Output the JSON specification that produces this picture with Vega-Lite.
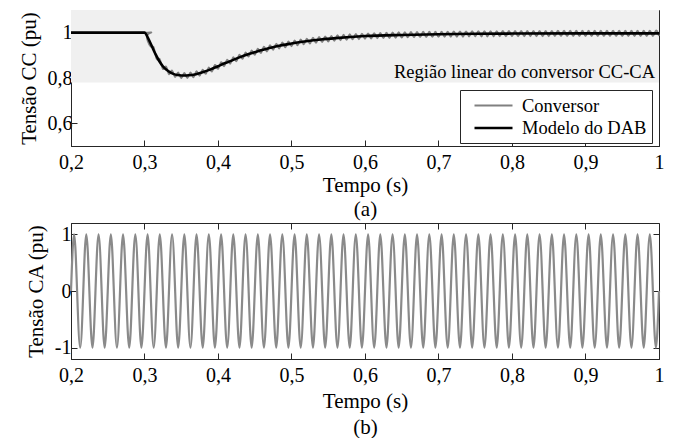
{
"$schema": "https://vega.github.io/schema/vega-lite/v6.json",
"padding": {"left": 17, "top": 9, "right": 0, "bottom": 0},
"spacing": 2,
"resolve": {"scale": {"color": "independent", "strokeWidth": "independent"}, "legend": {"color": "independent", "strokeWidth": "independent"}},
"config": {
  "font": "Liberation Serif",
  "view": {"stroke": "#262626", "strokeWidth": 1},
  "axis": {"labelFont": "Liberation Serif", "titleFont": "Liberation Serif", "labelFontSize": 20, "titleFontSize": 21, "titleFontWeight": "normal", "labelColor": "#000", "titleColor": "#000", "domainColor": "#262626", "tickColor": "#262626", "tickSize": -6, "grid": false, "labelFlush": false, "labelOverlap": false},
  "legend": {"orient": "none", "legendX": 389, "legendY": 80, "fillColor": "#ffffff", "strokeColor": "#262626", "padding": 5, "labelFont": "Liberation Serif", "labelFontSize": 18.5, "labelColor": "#000", "symbolType": "M-2,0H2", "symbolSize": 361, "symbolOffset": 17.5, "labelOffset": 17.5, "rowPadding": 2, "title": null}
},
"vconcat": [
{
  "width": 588, "height": 136,
  "encoding": {
    "x": {"field": "t", "type": "quantitative", "scale": {"domain": [0.2, 1], "nice": false, "zero": false},
          "axis": {"values": [0.2,0.3,0.4,0.5,0.6,0.7,0.8,0.9,1], "labelExpr": "replace(format(datum.value,'~g'),'.',',')", "labelPadding": 12, "title": ["Tempo (s)", "(a)"], "titleLineHeight": 24, "titlePadding": 2}},
    "y": {"field": "v", "type": "quantitative", "scale": {"domain": [0.5, 1.1], "nice": false, "zero": false},
          "axis": {"values": [0.6, 0.8, 1], "labelExpr": "replace(format(datum.value,'~g'),'.',',')", "labelPadding": 5, "title": "Tensão CC (pu)", "titlePadding": 8}}
  },
  "layer": [
    {"data": {"values": [{"t": 0.2, "t2": 1, "v": 0.78, "v2": 1.1}]},
     "mark": {"type": "rect", "fill": "#f0f0f0"},
     "encoding": {"x2": {"field": "t2"}, "y2": {"field": "v2"}}},
    {"data": {"values": [{"t": 1, "v": 0.802, "txt": "Região linear do conversor CC-CA"}]},
     "mark": {"type": "text", "align": "right", "dx": -4, "baseline": "alphabetic", "fontSize": 18.5, "font": "Liberation Serif", "color": "#000"},
     "encoding": {"text": {"field": "txt"}}},
    {"data": {"values": [
      {"t":0.2,"v":1,"s":"Conversor"},{"t":0.3,"v":1,"s":"Conversor"},
      {"t":0.3042,"v":0.991,"s":"Conversor"},{"t":0.3083,"v":0.940,"s":"Conversor"},{"t":0.3125,"v":0.935,"s":"Conversor"},{"t":0.3167,"v":0.883,"s":"Conversor"},
      {"t":0.3208,"v":0.883,"s":"Conversor"},{"t":0.325,"v":0.840,"s":"Conversor"},{"t":0.3292,"v":0.851,"s":"Conversor"},{"t":0.3333,"v":0.817,"s":"Conversor"},
      {"t":0.3375,"v":0.833,"s":"Conversor"},{"t":0.3417,"v":0.804,"s":"Conversor"},{"t":0.3458,"v":0.825,"s":"Conversor"},{"t":0.35,"v":0.799,"s":"Conversor"},
      {"t":0.3542,"v":0.823,"s":"Conversor"},{"t":0.3583,"v":0.800,"s":"Conversor"},{"t":0.3625,"v":0.825,"s":"Conversor"},{"t":0.3667,"v":0.803,"s":"Conversor"},
      {"t":0.3708,"v":0.830,"s":"Conversor"},{"t":0.375,"v":0.810,"s":"Conversor"},{"t":0.3792,"v":0.837,"s":"Conversor"},{"t":0.3833,"v":0.818,"s":"Conversor"},
      {"t":0.3875,"v":0.847,"s":"Conversor"},{"t":0.3917,"v":0.828,"s":"Conversor"},{"t":0.3958,"v":0.858,"s":"Conversor"},{"t":0.4,"v":0.840,"s":"Conversor"},
      {"t":0.4042,"v":0.870,"s":"Conversor"},{"t":0.4083,"v":0.852,"s":"Conversor"},{"t":0.4125,"v":0.881,"s":"Conversor"},{"t":0.4167,"v":0.863,"s":"Conversor"},
      {"t":0.4208,"v":0.892,"s":"Conversor"},{"t":0.425,"v":0.874,"s":"Conversor"},{"t":0.4292,"v":0.903,"s":"Conversor"},{"t":0.4333,"v":0.884,"s":"Conversor"},
      {"t":0.4375,"v":0.913,"s":"Conversor"},{"t":0.4417,"v":0.894,"s":"Conversor"},{"t":0.4458,"v":0.922,"s":"Conversor"},{"t":0.45,"v":0.902,"s":"Conversor"},
      {"t":0.4542,"v":0.930,"s":"Conversor"},{"t":0.4583,"v":0.910,"s":"Conversor"},{"t":0.4625,"v":0.938,"s":"Conversor"},{"t":0.4667,"v":0.917,"s":"Conversor"},
      {"t":0.4708,"v":0.945,"s":"Conversor"},{"t":0.475,"v":0.924,"s":"Conversor"},{"t":0.4792,"v":0.951,"s":"Conversor"},{"t":0.4833,"v":0.930,"s":"Conversor"},
      {"t":0.4875,"v":0.957,"s":"Conversor"},{"t":0.4917,"v":0.935,"s":"Conversor"},{"t":0.4958,"v":0.962,"s":"Conversor"},{"t":0.5,"v":0.940,"s":"Conversor"},
      {"t":0.5042,"v":0.966,"s":"Conversor"},{"t":0.5083,"v":0.944,"s":"Conversor"},{"t":0.5125,"v":0.970,"s":"Conversor"},{"t":0.5167,"v":0.948,"s":"Conversor"},
      {"t":0.5208,"v":0.974,"s":"Conversor"},{"t":0.525,"v":0.952,"s":"Conversor"},{"t":0.5292,"v":0.978,"s":"Conversor"},{"t":0.5333,"v":0.955,"s":"Conversor"},
      {"t":0.5375,"v":0.981,"s":"Conversor"},{"t":0.5417,"v":0.958,"s":"Conversor"},{"t":0.5458,"v":0.984,"s":"Conversor"},{"t":0.55,"v":0.961,"s":"Conversor"},
      {"t":0.5542,"v":0.986,"s":"Conversor"},{"t":0.5583,"v":0.964,"s":"Conversor"},{"t":0.5625,"v":0.989,"s":"Conversor"},{"t":0.5667,"v":0.966,"s":"Conversor"},
      {"t":0.5708,"v":0.991,"s":"Conversor"},{"t":0.575,"v":0.968,"s":"Conversor"},{"t":0.5792,"v":0.993,"s":"Conversor"},{"t":0.5833,"v":0.970,"s":"Conversor"},
      {"t":0.5875,"v":0.995,"s":"Conversor"},{"t":0.5917,"v":0.971,"s":"Conversor"},{"t":0.5958,"v":0.996,"s":"Conversor"},{"t":0.6,"v":0.973,"s":"Conversor"},
      {"t":0.6042,"v":0.997,"s":"Conversor"},{"t":0.6083,"v":0.974,"s":"Conversor"},{"t":0.6125,"v":0.998,"s":"Conversor"},{"t":0.6167,"v":0.975,"s":"Conversor"},
      {"t":0.6208,"v":0.999,"s":"Conversor"},{"t":0.625,"v":0.976,"s":"Conversor"},{"t":0.6292,"v":1.000,"s":"Conversor"},{"t":0.6333,"v":0.976,"s":"Conversor"},
      {"t":0.6375,"v":1.001,"s":"Conversor"},{"t":0.6417,"v":0.977,"s":"Conversor"},{"t":0.6458,"v":1.002,"s":"Conversor"},{"t":0.65,"v":0.978,"s":"Conversor"},
      {"t":0.6542,"v":1.002,"s":"Conversor"},{"t":0.6583,"v":0.979,"s":"Conversor"},{"t":0.6625,"v":1.003,"s":"Conversor"},{"t":0.6667,"v":0.979,"s":"Conversor"},
      {"t":0.6708,"v":1.003,"s":"Conversor"},{"t":0.675,"v":0.980,"s":"Conversor"},{"t":0.6792,"v":1.004,"s":"Conversor"},{"t":0.6833,"v":0.980,"s":"Conversor"},
      {"t":0.6875,"v":1.004,"s":"Conversor"},{"t":0.6917,"v":0.981,"s":"Conversor"},{"t":0.6958,"v":1.005,"s":"Conversor"},{"t":0.7,"v":0.981,"s":"Conversor"},
      {"t":0.7042,"v":1.005,"s":"Conversor"},{"t":0.7083,"v":0.982,"s":"Conversor"},{"t":0.7125,"v":1.005,"s":"Conversor"},{"t":0.7167,"v":0.982,"s":"Conversor"},
      {"t":0.7208,"v":1.006,"s":"Conversor"},{"t":0.725,"v":0.982,"s":"Conversor"},{"t":0.7292,"v":1.006,"s":"Conversor"},{"t":0.7333,"v":0.982,"s":"Conversor"},
      {"t":0.7375,"v":1.006,"s":"Conversor"},{"t":0.7417,"v":0.983,"s":"Conversor"},{"t":0.7458,"v":1.007,"s":"Conversor"},{"t":0.75,"v":0.983,"s":"Conversor"},
      {"t":0.7542,"v":1.007,"s":"Conversor"},{"t":0.7583,"v":0.983,"s":"Conversor"},{"t":0.7625,"v":1.007,"s":"Conversor"},{"t":0.7667,"v":0.983,"s":"Conversor"},
      {"t":0.7708,"v":1.007,"s":"Conversor"},{"t":0.775,"v":0.983,"s":"Conversor"},{"t":0.7792,"v":1.007,"s":"Conversor"},{"t":0.7833,"v":0.984,"s":"Conversor"},
      {"t":0.7875,"v":1.008,"s":"Conversor"},{"t":0.7917,"v":0.984,"s":"Conversor"},{"t":0.7958,"v":1.008,"s":"Conversor"},{"t":0.8,"v":0.984,"s":"Conversor"},
      {"t":0.8042,"v":1.008,"s":"Conversor"},{"t":0.8083,"v":0.984,"s":"Conversor"},{"t":0.8125,"v":1.008,"s":"Conversor"},{"t":0.8167,"v":0.984,"s":"Conversor"},
      {"t":0.8208,"v":1.008,"s":"Conversor"},{"t":0.825,"v":0.984,"s":"Conversor"},{"t":0.8292,"v":1.008,"s":"Conversor"},{"t":0.8333,"v":0.984,"s":"Conversor"},
      {"t":0.8375,"v":1.008,"s":"Conversor"},{"t":0.8417,"v":0.984,"s":"Conversor"},{"t":0.8458,"v":1.008,"s":"Conversor"},{"t":0.85,"v":0.984,"s":"Conversor"},
      {"t":0.8542,"v":1.008,"s":"Conversor"},{"t":0.8583,"v":0.985,"s":"Conversor"},{"t":0.8625,"v":1.009,"s":"Conversor"},{"t":0.8667,"v":0.985,"s":"Conversor"},
      {"t":0.8708,"v":1.009,"s":"Conversor"},{"t":0.875,"v":0.985,"s":"Conversor"},{"t":0.8792,"v":1.009,"s":"Conversor"},{"t":0.8833,"v":0.985,"s":"Conversor"},
      {"t":0.8875,"v":1.009,"s":"Conversor"},{"t":0.8917,"v":0.985,"s":"Conversor"},{"t":0.8958,"v":1.009,"s":"Conversor"},{"t":0.9,"v":0.985,"s":"Conversor"},
      {"t":0.9042,"v":1.009,"s":"Conversor"},{"t":0.9083,"v":0.985,"s":"Conversor"},{"t":0.9125,"v":1.009,"s":"Conversor"},{"t":0.9167,"v":0.985,"s":"Conversor"},
      {"t":0.9208,"v":1.009,"s":"Conversor"},{"t":0.925,"v":0.985,"s":"Conversor"},{"t":0.9292,"v":1.009,"s":"Conversor"},{"t":0.9333,"v":0.985,"s":"Conversor"},
      {"t":0.9375,"v":1.009,"s":"Conversor"},{"t":0.9417,"v":0.985,"s":"Conversor"},{"t":0.9458,"v":1.009,"s":"Conversor"},{"t":0.95,"v":0.985,"s":"Conversor"},
      {"t":0.9542,"v":1.009,"s":"Conversor"},{"t":0.9583,"v":0.985,"s":"Conversor"},{"t":0.9625,"v":1.009,"s":"Conversor"},{"t":0.9667,"v":0.985,"s":"Conversor"},
      {"t":0.9708,"v":1.009,"s":"Conversor"},{"t":0.975,"v":0.985,"s":"Conversor"},{"t":0.9792,"v":1.009,"s":"Conversor"},{"t":0.9833,"v":0.985,"s":"Conversor"},
      {"t":0.9875,"v":1.009,"s":"Conversor"},{"t":0.9917,"v":0.985,"s":"Conversor"},{"t":0.9958,"v":1.009,"s":"Conversor"},{"t":1.0,"v":0.985,"s":"Conversor"}
     ]},
     "mark": {"type": "line", "interpolate": "natural"},
     "encoding": {
       "color": {"field": "s", "type": "nominal", "scale": {"domain": ["Conversor", "Modelo do DAB"], "range": ["#808080", "#000000"]}, "legend": {"title": null}},
       "strokeWidth": {"field": "s", "type": "ordinal", "scale": {"domain": ["Conversor", "Modelo do DAB"], "range": [1.8, 2.6]}, "legend": {"title": null}}
     }},
    {"data": {"values": [
      {"t":0.2,"v":1,"s":"Modelo do DAB"},{"t":0.3,"v":1,"s":"Modelo do DAB"},{"t":0.305,"v":0.975,"s":"Modelo do DAB"},{"t":0.31,"v":0.94,"s":"Modelo do DAB"},
      {"t":0.315,"v":0.905,"s":"Modelo do DAB"},{"t":0.32,"v":0.875,"s":"Modelo do DAB"},{"t":0.325,"v":0.852,"s":"Modelo do DAB"},{"t":0.33,"v":0.836,"s":"Modelo do DAB"},
      {"t":0.335,"v":0.825,"s":"Modelo do DAB"},{"t":0.34,"v":0.817,"s":"Modelo do DAB"},{"t":0.345,"v":0.813,"s":"Modelo do DAB"},{"t":0.35,"v":0.811,"s":"Modelo do DAB"},
      {"t":0.355,"v":0.811,"s":"Modelo do DAB"},{"t":0.36,"v":0.812,"s":"Modelo do DAB"},{"t":0.37,"v":0.817,"s":"Modelo do DAB"},{"t":0.38,"v":0.826,"s":"Modelo do DAB"},
      {"t":0.39,"v":0.838,"s":"Modelo do DAB"},{"t":0.4,"v":0.852,"s":"Modelo do DAB"},{"t":0.41,"v":0.866,"s":"Modelo do DAB"},{"t":0.42,"v":0.879,"s":"Modelo do DAB"},
      {"t":0.43,"v":0.892,"s":"Modelo do DAB"},{"t":0.44,"v":0.904,"s":"Modelo do DAB"},{"t":0.45,"v":0.914,"s":"Modelo do DAB"},{"t":0.46,"v":0.924,"s":"Modelo do DAB"},
      {"t":0.47,"v":0.932,"s":"Modelo do DAB"},{"t":0.48,"v":0.94,"s":"Modelo do DAB"},{"t":0.5,"v":0.952,"s":"Modelo do DAB"},{"t":0.52,"v":0.962,"s":"Modelo do DAB"},
      {"t":0.54,"v":0.97,"s":"Modelo do DAB"},{"t":0.56,"v":0.976,"s":"Modelo do DAB"},{"t":0.58,"v":0.981,"s":"Modelo do DAB"},{"t":0.6,"v":0.985,"s":"Modelo do DAB"},
      {"t":0.65,"v":0.99,"s":"Modelo do DAB"},{"t":0.7,"v":0.993,"s":"Modelo do DAB"},{"t":0.75,"v":0.995,"s":"Modelo do DAB"},{"t":0.8,"v":0.996,"s":"Modelo do DAB"},
      {"t":0.9,"v":0.997,"s":"Modelo do DAB"},{"t":1.0,"v":0.997,"s":"Modelo do DAB"}
     ]},
     "mark": {"type": "line", "interpolate": "monotone"},
     "encoding": {
       "color": {"field": "s", "type": "nominal", "scale": {"domain": ["Conversor", "Modelo do DAB"], "range": ["#808080", "#000000"]}, "legend": {"title": null}},
       "strokeWidth": {"field": "s", "type": "ordinal", "scale": {"domain": ["Conversor", "Modelo do DAB"], "range": [1.8, 2.6]}, "legend": {"title": null}}
     }}
  ]
},
{
  "width": 588, "height": 136,
  "resolve": {"axis": {"x": "independent", "y": "independent"}},
  "data": {"values": [
    {"t":0.2,"v":0},{"t":0.2042,"v":1},{"t":0.2083,"v":0},{"t":0.2125,"v":-1},
    {"t":0.2167,"v":0},{"t":0.2208,"v":1},{"t":0.225,"v":0},{"t":0.2292,"v":-1},
    {"t":0.2333,"v":0},{"t":0.2375,"v":1},{"t":0.2417,"v":0},{"t":0.2458,"v":-1},
    {"t":0.25,"v":0},{"t":0.2542,"v":1},{"t":0.2583,"v":0},{"t":0.2625,"v":-1},
    {"t":0.2667,"v":0},{"t":0.2708,"v":1},{"t":0.275,"v":0},{"t":0.2792,"v":-1},
    {"t":0.2833,"v":0},{"t":0.2875,"v":1},{"t":0.2917,"v":0},{"t":0.2958,"v":-1},
    {"t":0.3,"v":0},{"t":0.3042,"v":1},{"t":0.3083,"v":0},{"t":0.3125,"v":-1},
    {"t":0.3167,"v":0},{"t":0.3208,"v":1},{"t":0.325,"v":0},{"t":0.3292,"v":-1},
    {"t":0.3333,"v":0},{"t":0.3375,"v":1},{"t":0.3417,"v":0},{"t":0.3458,"v":-1},
    {"t":0.35,"v":0},{"t":0.3542,"v":1},{"t":0.3583,"v":0},{"t":0.3625,"v":-1},
    {"t":0.3667,"v":0},{"t":0.3708,"v":1},{"t":0.375,"v":0},{"t":0.3792,"v":-1},
    {"t":0.3833,"v":0},{"t":0.3875,"v":1},{"t":0.3917,"v":0},{"t":0.3958,"v":-1},
    {"t":0.4,"v":0},{"t":0.4042,"v":1},{"t":0.4083,"v":0},{"t":0.4125,"v":-1},
    {"t":0.4167,"v":0},{"t":0.4208,"v":1},{"t":0.425,"v":0},{"t":0.4292,"v":-1},
    {"t":0.4333,"v":0},{"t":0.4375,"v":1},{"t":0.4417,"v":0},{"t":0.4458,"v":-1},
    {"t":0.45,"v":0},{"t":0.4542,"v":1},{"t":0.4583,"v":0},{"t":0.4625,"v":-1},
    {"t":0.4667,"v":0},{"t":0.4708,"v":1},{"t":0.475,"v":0},{"t":0.4792,"v":-1},
    {"t":0.4833,"v":0},{"t":0.4875,"v":1},{"t":0.4917,"v":0},{"t":0.4958,"v":-1},
    {"t":0.5,"v":0},{"t":0.5042,"v":1},{"t":0.5083,"v":0},{"t":0.5125,"v":-1},
    {"t":0.5167,"v":0},{"t":0.5208,"v":1},{"t":0.525,"v":0},{"t":0.5292,"v":-1},
    {"t":0.5333,"v":0},{"t":0.5375,"v":1},{"t":0.5417,"v":0},{"t":0.5458,"v":-1},
    {"t":0.55,"v":0},{"t":0.5542,"v":1},{"t":0.5583,"v":0},{"t":0.5625,"v":-1},
    {"t":0.5667,"v":0},{"t":0.5708,"v":1},{"t":0.575,"v":0},{"t":0.5792,"v":-1},
    {"t":0.5833,"v":0},{"t":0.5875,"v":1},{"t":0.5917,"v":0},{"t":0.5958,"v":-1},
    {"t":0.6,"v":0},{"t":0.6042,"v":1},{"t":0.6083,"v":0},{"t":0.6125,"v":-1},
    {"t":0.6167,"v":0},{"t":0.6208,"v":1},{"t":0.625,"v":0},{"t":0.6292,"v":-1},
    {"t":0.6333,"v":0},{"t":0.6375,"v":1},{"t":0.6417,"v":0},{"t":0.6458,"v":-1},
    {"t":0.65,"v":0},{"t":0.6542,"v":1},{"t":0.6583,"v":0},{"t":0.6625,"v":-1},
    {"t":0.6667,"v":0},{"t":0.6708,"v":1},{"t":0.675,"v":0},{"t":0.6792,"v":-1},
    {"t":0.6833,"v":0},{"t":0.6875,"v":1},{"t":0.6917,"v":0},{"t":0.6958,"v":-1},
    {"t":0.7,"v":0},{"t":0.7042,"v":1},{"t":0.7083,"v":0},{"t":0.7125,"v":-1},
    {"t":0.7167,"v":0},{"t":0.7208,"v":1},{"t":0.725,"v":0},{"t":0.7292,"v":-1},
    {"t":0.7333,"v":0},{"t":0.7375,"v":1},{"t":0.7417,"v":0},{"t":0.7458,"v":-1},
    {"t":0.75,"v":0},{"t":0.7542,"v":1},{"t":0.7583,"v":0},{"t":0.7625,"v":-1},
    {"t":0.7667,"v":0},{"t":0.7708,"v":1},{"t":0.775,"v":0},{"t":0.7792,"v":-1},
    {"t":0.7833,"v":0},{"t":0.7875,"v":1},{"t":0.7917,"v":0},{"t":0.7958,"v":-1},
    {"t":0.8,"v":0},{"t":0.8042,"v":1},{"t":0.8083,"v":0},{"t":0.8125,"v":-1},
    {"t":0.8167,"v":0},{"t":0.8208,"v":1},{"t":0.825,"v":0},{"t":0.8292,"v":-1},
    {"t":0.8333,"v":0},{"t":0.8375,"v":1},{"t":0.8417,"v":0},{"t":0.8458,"v":-1},
    {"t":0.85,"v":0},{"t":0.8542,"v":1},{"t":0.8583,"v":0},{"t":0.8625,"v":-1},
    {"t":0.8667,"v":0},{"t":0.8708,"v":1},{"t":0.875,"v":0},{"t":0.8792,"v":-1},
    {"t":0.8833,"v":0},{"t":0.8875,"v":1},{"t":0.8917,"v":0},{"t":0.8958,"v":-1},
    {"t":0.9,"v":0},{"t":0.9042,"v":1},{"t":0.9083,"v":0},{"t":0.9125,"v":-1},
    {"t":0.9167,"v":0},{"t":0.9208,"v":1},{"t":0.925,"v":0},{"t":0.9292,"v":-1},
    {"t":0.9333,"v":0},{"t":0.9375,"v":1},{"t":0.9417,"v":0},{"t":0.9458,"v":-1},
    {"t":0.95,"v":0},{"t":0.9542,"v":1},{"t":0.9583,"v":0},{"t":0.9625,"v":-1},
    {"t":0.9667,"v":0},{"t":0.9708,"v":1},{"t":0.975,"v":0},{"t":0.9792,"v":-1},
    {"t":0.9833,"v":0},{"t":0.9875,"v":1},{"t":0.9917,"v":0},{"t":0.9958,"v":-1},
    {"t":1.0,"v":0}
  ]},
  "layer": [
    {"mark": {"type": "line", "interpolate": "natural", "color": "#8a8a8a", "strokeWidth": 2.2},
     "encoding": {
       "x": {"field": "t", "type": "quantitative", "scale": {"domain": [0.2, 1], "nice": false, "zero": false},
             "axis": {"orient": "bottom", "values": [0.2,0.3,0.4,0.5,0.6,0.7,0.8,0.9,1], "labelExpr": "replace(format(datum.value,'~g'),'.',',')", "labelPadding": 12, "title": ["Tempo (s)", "(b)"], "titleLineHeight": 26, "titlePadding": 5}},
       "y": {"field": "v", "type": "quantitative", "scale": {"domain": [-1.2, 1.2], "nice": false, "zero": false},
             "axis": {"orient": "left", "values": [-1, 0, 1], "labelExpr": "datum.value < 0 ? '-' + format(-datum.value, '~g') : format(datum.value, '~g')", "labelPadding": 6, "title": "Tensão CA (pu)", "titlePadding": 8}}
     }},
    {"mark": {"type": "line", "opacity": 0},
     "encoding": {
       "x": {"field": "t", "type": "quantitative", "scale": {"domain": [0.2, 1], "nice": false, "zero": false},
             "axis": {"orient": "top", "values": [0.2,0.3,0.4,0.5,0.6,0.7,0.8,0.9,1], "labels": false, "title": null, "domain": false}},
       "y": {"field": "v", "type": "quantitative", "scale": {"domain": [-1.2, 1.2], "nice": false, "zero": false},
             "axis": {"orient": "right", "values": [-1, 0, 1], "labels": false, "title": null, "domain": false}}
     }}
  ]
}
]
}
